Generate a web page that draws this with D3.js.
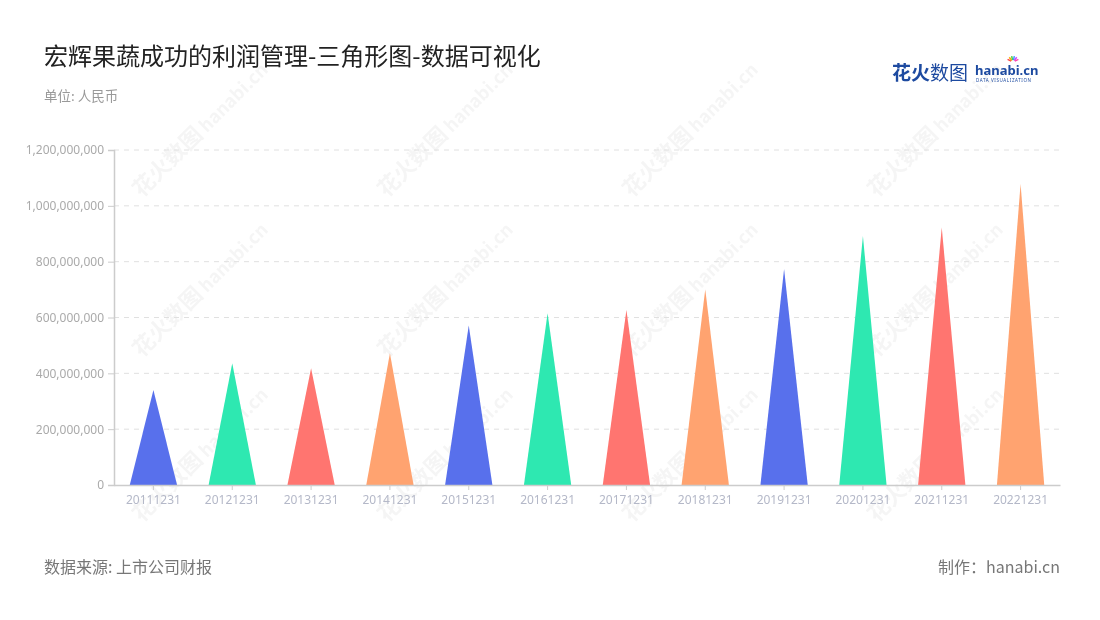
<!DOCTYPE html>
<html><head><meta charset="utf-8">
<script src="https://cdn.jsdelivr.net/npm/d3@7"></script>
<style>body{margin:0;background:#fff;}svg{display:block;font-family:"Noto Sans CJK SC","Noto Sans",sans-serif;}</style>
</head><body>
<svg id="c" width="1100" height="620"></svg>
<script>
const categories = ["20111231","20121231","20131231","20141231","20151231","20161231","20171231","20181231","20191231","20201231","20211231","20221231"];
const values = [340e6, 436e6, 418e6, 472e6, 571e6, 615e6, 627e6, 701e6, 774e6, 892e6, 922e6, 1078e6];
const yTicks = [0, 200e6, 400e6, 600e6, 800e6, 1000e6, 1200e6];
const palette = ["#5870ec", "#2ee8b1", "#ff7570", "#ffa370"];

const svg = d3.select("#c");
const m = {l:114, r:1060, t:150, b:485};

// watermarks
const wm = svg.append("g").attr("opacity",0.05);
const wmX = [170, 415, 660, 905];
const wmY = [170, 330, 495];
wmY.forEach(y => wmX.forEach(x => {
  const g = wm.append("g").attr("transform", `translate(${x},${y}) rotate(-45)`);
  g.append("text").attr("x",-40).attr("y",0).attr("font-size",22).attr("font-weight","bold").attr("fill","#333").text("花火数图");
  g.append("text").attr("x",52).attr("y",0).attr("font-size",18).attr("font-weight","bold").attr("fill","#333").text("hanabi.cn");
}));

const x = d3.scaleBand().domain(categories).range([m.l, m.r]);
const y = d3.scaleLinear().domain([0, 1200e6]).range([m.b, m.t]);

// gridlines
svg.append("g").selectAll("line").data(yTicks.slice(1)).join("line")
  .attr("x1", m.l).attr("x2", m.r).attr("y1", d=>y(d)).attr("y2", d=>y(d))
  .attr("stroke","#e0e0e0").attr("stroke-dasharray","5,5");

// y axis
const yAxis = svg.append("g").attr("transform",`translate(${m.l},0)`)
  .call(d3.axisLeft(y).tickValues(yTicks).tickFormat(d3.format(",")).tickSize(6).tickPadding(4));
yAxis.select(".domain").attr("stroke","#ccc").attr("stroke-width",1.5);
yAxis.selectAll(".tick line").attr("stroke","#ccc");
yAxis.selectAll("text").attr("fill","#aaa").attr("font-size",12).attr("font-family","Noto Sans, sans-serif");

// triangles
svg.append("g").selectAll("path").data(values).join("path")
  .attr("d", (d,i) => {
    const c = x(categories[i]) + x.bandwidth()/2;
    const hw = x.bandwidth()*0.3;
    return `M${c-hw},${y(0)} L${c},${y(d)} L${c+hw},${y(0)} Z`;
  })
  .attr("fill", (d,i) => palette[i % 4]);

// x axis
const xAxis = svg.append("g").attr("transform",`translate(0,${m.b})`)
  .call(d3.axisBottom(x).tickSize(5).tickPadding(5).tickSizeOuter(0));
xAxis.select(".domain").attr("stroke","#ccc").attr("stroke-width",1.5);
xAxis.selectAll(".tick line").attr("stroke","#ccc");
xAxis.selectAll("text").attr("fill","#b4b8c8").attr("font-size",12).attr("font-family","Noto Sans, sans-serif");

// titles
svg.append("text").attr("x",44).attr("y",65).attr("font-size",24).attr("fill","#222").text("宏辉果蔬成功的利润管理-三角形图-数据可视化");
svg.append("text").attr("x",44).attr("y",101).attr("font-size",13.5).attr("fill","#999").text("单位: 人民币");
svg.append("text").attr("x",44).attr("y",573).attr("font-size",16).attr("fill","#777").text("数据来源: 上市公司财报");
svg.append("text").attr("x",1060).attr("y",573).attr("font-size",16).attr("fill","#777").attr("text-anchor","end").text("制作：hanabi.cn");

// logo
const lg = svg.append("g");
lg.append("text").attr("x",892).attr("y",80).attr("font-size",19).attr("font-weight","bold").attr("fill","#1d4aa0").text("花火");
lg.append("text").attr("x",930).attr("y",80).attr("font-size",19).attr("fill","#1d4aa0").text("数图");
lg.append("text").attr("x",975).attr("y",75).attr("font-size",13).attr("font-weight","bold").attr("fill","#1d4aa0").attr("font-family","Noto Sans, sans-serif").text("hanabi.cn");
lg.append("text").attr("x",976).attr("y",82).attr("font-size",4.5).attr("fill","#1d4aa0").attr("letter-spacing","0.6").attr("font-family","Noto Sans, sans-serif").text("DATA VISUALIZATION");
const burst = ["#f44","#fa0","#4c4","#39f","#c4f","#f4a"];
burst.forEach((c,i)=>{
  const a = -Math.PI/2 + (i-2.5)*0.45;
  lg.append("line").attr("x1",1013+Math.cos(a)*2).attr("y1",62+Math.sin(a)*2)
    .attr("x2",1013+Math.cos(a)*6).attr("y2",62+Math.sin(a)*6).attr("stroke",c).attr("stroke-width",1.5);
});
</script>
</body></html>
